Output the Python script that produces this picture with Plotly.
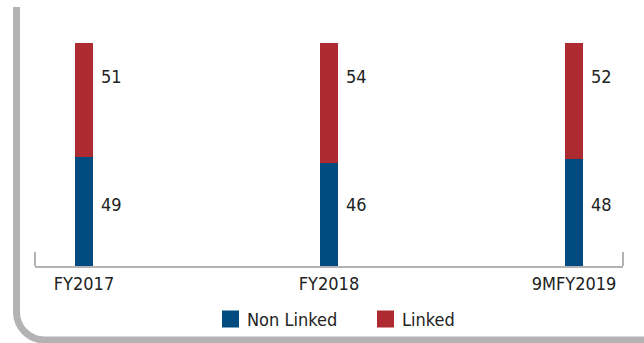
import plotly.graph_objects as go

# dados do gráfico
anos = ["FY2017", "FY2018", "9MFY2019"]
non_linked = [49, 46, 48]
linked = [51, 54, 52]
nome_non_linked = "Non Linked"
nome_linked = "Linked"

AZUL = "#004b80"
VERMELHO = "#ae2a31"
CINZA = "#b3b3b3"
TEXTO = "#222222"
FONTE = "DejaVu Sans Condensed, Liberation Sans Narrow, sans-serif"
TAM = 18

W, H = 644, 343
M_L, M_R, M_T, M_B = 35, 21, 43, 77
PW = W - M_L - M_R
PH = H - M_T - M_B


def px_x(px):
    return (px - M_L) / PW


def px_y(py):
    return (H - M_B - py) / PH


fig = go.Figure()
fig.add_trace(go.Bar(x=anos, y=non_linked, name=nome_non_linked,
                     marker=dict(color=AZUL, line=dict(width=0)), width=0.0735, showlegend=False))
fig.add_trace(go.Bar(x=anos, y=linked, name=nome_linked,
                     marker=dict(color=VERMELHO, line=dict(width=0)), width=0.0735, showlegend=False))

# rótulos ao lado das barras, em alturas fixas relativas ao total
anotacoes = []
for ano, nl, l in zip(anos, non_linked, linked):
    total = nl + l
    anotacoes.append(dict(x=ano, y=total * 0.278, text=str(nl), showarrow=False,
                          xanchor="left", yanchor="middle", xshift=15,
                          font=dict(family=FONTE, size=TAM, color=TEXTO)))
    anotacoes.append(dict(x=ano, y=total * 0.848, text=str(l), showarrow=False,
                          xanchor="left", yanchor="middle", xshift=15,
                          font=dict(family=FONTE, size=TAM, color=TEXTO)))

# legenda manual (quadrados maiores que os do plotly)
shapes = []
for nome, cor, x0 in [(nome_non_linked, AZUL, 222), (nome_linked, VERMELHO, 377)]:
    shapes.append(dict(type="rect", xref="paper", yref="paper",
                       x0=px_x(x0), x1=px_x(x0 + 17), y0=px_y(310.5), y1=px_y(327.5),
                       fillcolor=cor, line=dict(width=0)))
    anotacoes.append(dict(xref="paper", yref="paper", x=px_x(x0 + 23), y=px_y(319),
                          text=nome, showarrow=False, xanchor="left", yanchor="middle",
                          font=dict(family=FONTE, size=TAM, color=TEXTO)))

# ticks nas pontas do eixo
for xp in [0, 1]:
    shapes.append(dict(type="line", xref="paper", yref="paper",
                       x0=xp, x1=xp, y0=0, y1=px_y(252),
                       line=dict(color=CINZA, width=2)))

# moldura cinza arredondada
r = 28
k = r * 0.5523
caminho = f"M {px_x(16.5)},{px_y(7)} L {px_x(16.5)},{px_y(340 - r)} "
caminho += (f"C {px_x(16.5)},{px_y(340 - r + k)} {px_x(16.5 + r - k)},{px_y(340)} "
            f"{px_x(16.5 + r)},{px_y(340)} L {px_x(W + 10)},{px_y(340)}")
shapes.append(dict(type="path", xref="paper", yref="paper", path=caminho,
                   line=dict(color=CINZA, width=7)))

fig.update_layout(
    barmode="stack",
    width=W, height=H,
    margin=dict(l=M_L, r=M_R, t=M_T, b=M_B, autoexpand=False),
    paper_bgcolor="white", plot_bgcolor="white",
    font=dict(family=FONTE, size=TAM, color=TEXTO),
    xaxis=dict(range=[-0.2, 2.2], showline=True, linecolor=CINZA, linewidth=2,
               showgrid=False, ticks="", automargin=False,
               tickfont=dict(family=FONTE, size=TAM, color=TEXTO)),
    yaxis=dict(range=[0, 100], visible=False, automargin=False),
    annotations=anotacoes,
    shapes=shapes,
    hovermode=False,
)

# tira a margem padrão do body para o gráfico ficar colado no canto
fig.write_html("out.html", config={"displayModeBar": False},
               post_script="document.body.style.margin='0';")
